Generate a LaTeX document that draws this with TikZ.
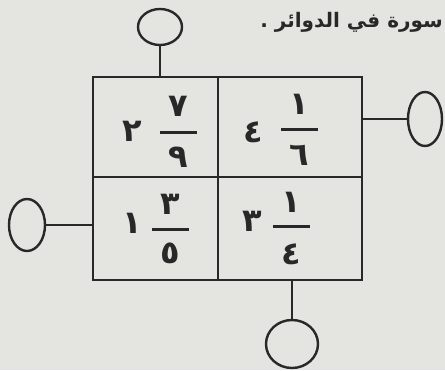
\documentclass[tikz,border=0pt]{standalone}
\usepackage{fontspec}
\usetikzlibrary{shapes.geometric}
\TeXXeTstate=1
\newfontfamily\arabicfont[Script=Arabic]{DejaVu Sans}
\definecolor{paper}{RGB}{228,228,225}
\definecolor{ink}{RGB}{40,40,40}
\begin{document}
\begin{tikzpicture}[x=1pt,y=-1pt,
  cell/.style={draw=ink,line width=2.6pt,rectangle,inner sep=0pt},
  ring/.style={draw=ink,line width=2.4pt,ellipse,inner sep=0pt},
  stem/.style={draw=ink,line width=2.4pt},
  digit/.style={text=ink,font=\arabicfont\bfseries\fontsize{32}{32}\selectfont,inner sep=0pt},
  bar/.style={fill=ink,rectangle,inner sep=0pt,minimum height=3pt,minimum width=37pt}]
\fill[paper] (0,0) rectangle (445,370);
\useasboundingbox (0,0) rectangle (445,370);
% header text
\node[text=ink,font=\arabicfont\bfseries\fontsize{20}{20}\selectfont,anchor=base east,inner sep=0pt] (head) at (443,27) {\beginR سورة في الدوائر .\endR};
% cells
\node[cell,minimum width=125pt,minimum height=100pt] (tl) at (155.5,127) {};
\node[cell,minimum width=144pt,minimum height=100pt] (tr) at (290,127) {};
\node[cell,minimum width=125pt,minimum height=103pt] (bl) at (155.5,228.5) {};
\node[cell,minimum width=144pt,minimum height=103pt] (br) at (290,228.5) {};
% rings
\node[ring,minimum width=44pt,minimum height=36pt] (ctop) at (160,27) {};
\node[ring,minimum width=34pt,minimum height=54pt] (cright) at (425,119) {};
\node[ring,minimum width=36pt,minimum height=52pt] (cleft) at (27,225) {};
\node[ring,minimum width=52pt,minimum height=48pt] (cbot) at (292,344) {};
% stems
\draw[stem] (ctop.south) -- (ctop.south |- tl.north);
\draw[stem] (cright.west) -- (cright.west -| tr.east);
\draw[stem] (cleft.east) -- (cleft.east -| bl.west);
\draw[stem] (cbot.north) -- (cbot.north |- br.south);
% top-left: 2  7/9
\node[digit] (tlw) at (132,131) {٢};
\node[bar] (tlb) at (178.5,132) {};
\node[digit] (tln) at (178.5,106) {٧};
\node[digit] (tld) at (178.5,157) {٩};
% top-right: 4  1/6
\node[digit] (trw) at (253,132) {٤};
\node[bar] (trb) at (299.5,129) {};
\node[digit] (trn) at (299.5,104) {١};
\node[digit] (trd) at (299.5,155) {٦};
% bottom-left: 1  3/5
\node[digit] (blw) at (132,223) {١};
\node[bar] (blb) at (170.5,229) {};
\node[digit] (bln) at (170.5,204) {٣};
\node[digit] (bld) at (170.5,253) {٥};
% bottom-right: 3  1/4
\node[digit] (brw) at (252,221) {٣};
\node[bar] (brb) at (291.5,226) {};
\node[digit] (brn) at (291.5,202) {١};
\node[digit] (brd) at (291.5,254) {٤};
\end{tikzpicture}
\end{document}
